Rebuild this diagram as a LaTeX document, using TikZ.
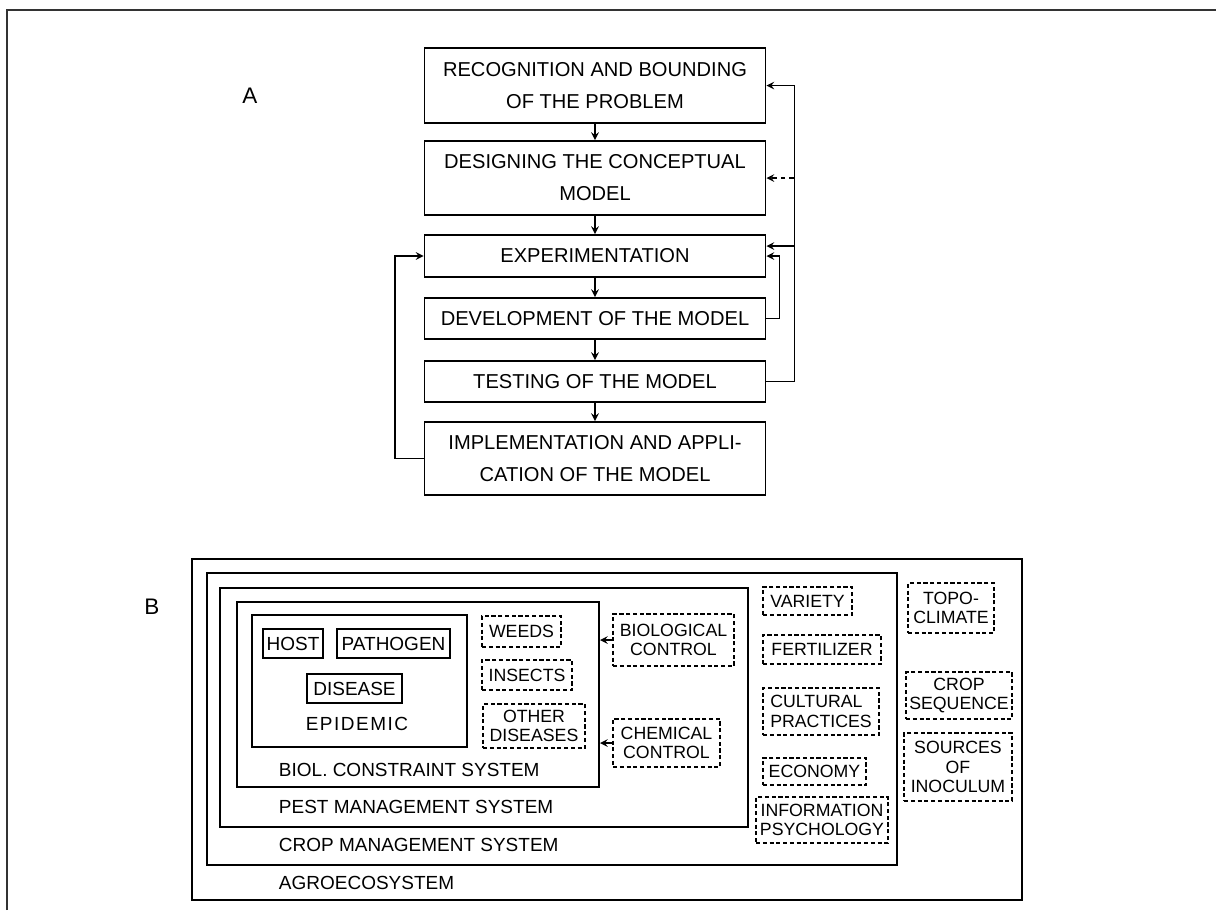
\documentclass[tikz,border=0pt]{standalone}
\usepackage{fontspec}
\setmainfont{Liberation Sans}
\usetikzlibrary{positioning}
\usetikzlibrary{arrows}
\usetikzlibrary{calc}

\begin{document}
\begin{tikzpicture}[x=0.025cm, y=-0.025cm, line width=1.4pt, >=stealth,
	stepbox/.style 2 args={draw, align=center, inner sep=0pt, minimum width=#1*0.025cm, minimum height=#2*0.025cm, font=\fontsize{14.3}{22.7}\selectfont},
	sysbox/.style 2 args={draw, inner sep=0pt, minimum width=#1*0.025cm, minimum height=#2*0.025cm},
	solbox/.style 2 args={draw, inner sep=0pt, minimum width=#1*0.025cm, minimum height=#2*0.025cm, font=\fontsize{13.5}{14}\selectfont},
	dashbox/.style 2 args={draw, line width=1.2pt, dash pattern=on 3pt off 1.8pt, align=center, inner sep=0pt, minimum width=#1*0.025cm, minimum height=#2*0.025cm, font=\fontsize{12.6}{14}\selectfont},
	syslabel/.style={anchor=west, inner sep=0pt, font=\fontsize{13.5}{14}\selectfont},
	letter/.style={font=\fontsize{16}{18}\selectfont}]
\useasboundingbox (0,0) rectangle (1216,910);

% frame
\draw[line width=1.5pt, black!80] (7,910) -- (7,10) -- (1216,10);

% A
\node[letter] (labA) at (250,96) {A};
\node[stepbox={341}{75}] (recog) at (595,85.5) {RECOGNITION AND BOUNDING\\OF THE PROBLEM};
\node[stepbox={341}{74}] (design) at (595,178) {DESIGNING THE CONCEPTUAL\\MODEL};
\node[stepbox={341}{42}] (exper) at (595,256) {EXPERIMENTATION};
\node[stepbox={341}{41}] (devel) at (595,318.5) {DEVELOPMENT OF THE MODEL};
\node[stepbox={341}{41}] (test) at (595,381.5) {TESTING OF THE MODEL};
\node[stepbox={341}{73}] (impl) at (595,458.5) {IMPLEMENTATION AND APPLI-\\CATION OF THE MODEL};

\draw[->] (recog) -- (design);
\draw[->] (design) -- (exper);
\draw[->] (exper) -- (devel);
\draw[->] (devel) -- (test);
\draw[->] (test) -- (impl);

\coordinate (rt) at (793.5,0);
\coordinate (ein) at ($(exper.east)+(0,-10)$);
\draw[->] (test.east) -- ++(28,0) |- (recog.east);
\draw[->, dashed] (design.east -| rt) -- (design.east);
\draw[->] (ein -| rt) -- (ein);
\draw[->] (devel.east) -- ++(13,0) |- (exper.east);
\draw[->] (impl.west) -- ++(-29,0) |- (exper.west);

% B
\node[letter] (labB) at (152,607) {B};
\node[sysbox={830}{341}] (agro) at (607,729.5) {};
\node[sysbox={690}{292}] (crop) at (552,719) {};
\node[sysbox={528}{239}] (pest) at (484,707.5) {};
\node[sysbox={362}{185}] (biol) at (418,694.5) {};
\node[sysbox={215}{132}] (epid) at (359.5,681) {};

\node[syslabel] (biolt) at (278,770) {BIOL.\ CONSTRAINT SYSTEM};
\node[syslabel] (pestt) at (278,807) {PEST MANAGEMENT SYSTEM};
\node[syslabel] (cropt) at (278,845) {CROP MANAGEMENT SYSTEM};
\node[syslabel] (agrot) at (278,883) {AGROECOSYSTEM};
\node[font=\fontsize{13.5}{14}\selectfont\addfontfeatures{LetterSpace=8}] (epidt) at (357,724) {EPIDEMIC};

\node[solbox={60}{29}] (host) at (293,643.5) {HOST};
\node[solbox={113}{29}] (path) at (393.5,643.5) {PATHOGEN};
\node[solbox={95}{29}] (dis) at (354.5,688.5) {DISEASE};

\node[dashbox={79}{31}] (weeds) at (521.5,631.5) {WEEDS};
\node[dashbox={90}{30}] (insects) at (527,675) {INSECTS};
\node[dashbox={102}{44}] (otherdis) at (534,726) {OTHER\\DISEASES};
\node[dashbox={121}{52}] (biocon) at (673.5,640) {BIOLOGICAL\\CONTROL};
\node[dashbox={107}{48}] (chemcon) at (666.5,743) {CHEMICAL\\CONTROL};

\node[dashbox={89}{28}] (variety) at (807.5,601) {VARIETY};
\node[dashbox={118}{29}] (fert) at (822,649.5) {FERTILIZER};
\node[dashbox={116}{47}, align=left] (cult) at (821,711.5) {CULTURAL\\PRACTICES};
\node[dashbox={103}{27}] (econ) at (814.5,771.5) {ECONOMY};
\node[dashbox={132}{46}] (info) at (822,820) {INFORMATION\\PSYCHOLOGY};

\node[dashbox={86}{50}] (topo) at (951,608) {TOPO-\\CLIMATE};
\node[dashbox={106}{47}] (cropseq) at (959,695.5) {CROP\\SEQUENCE};
\node[dashbox={108}{68}] (sources) at (958,767) {SOURCES\\OF\\INOCULUM};

\draw[->] (biocon.west) -- (biocon.west -| biol.east);
\draw[->] (chemcon.west) -- (chemcon.west -| biol.east);
\end{tikzpicture}
\end{document}
